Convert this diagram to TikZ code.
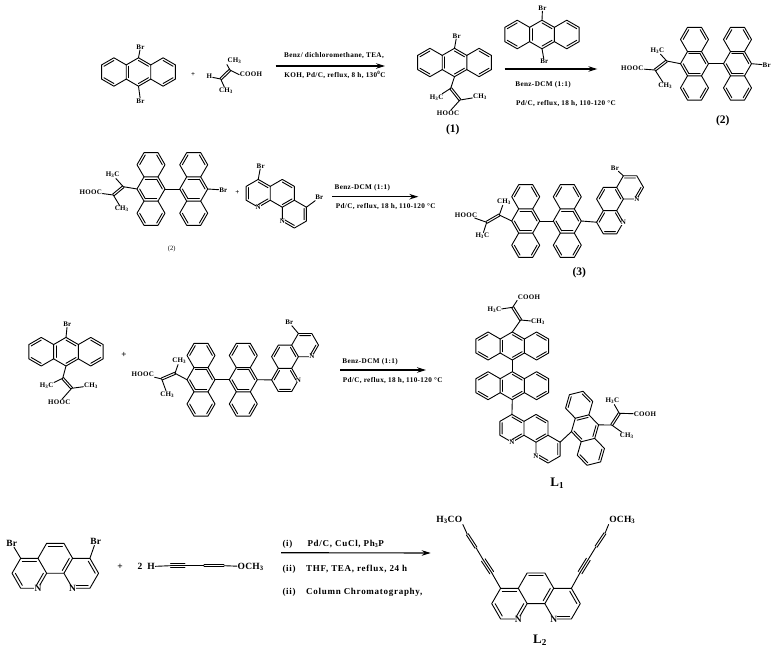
\documentclass[tikz,border=0pt]{standalone}
\usepackage{fontspec}
\setmainfont{Liberation Serif}
\newfontfamily\atomf{Liberation Serif}[LetterSpace=4]
\newfontfamily\bigatomf{Liberation Serif}[LetterSpace=3]
\newfontfamily\condf{Liberation Serif}[LetterSpace=5]
\newfontfamily\bigcondf{Liberation Serif}[LetterSpace=8]
\usetikzlibrary{calc,arrows.meta}
\tikzset{
  bond/.style={line width=.9pt,line cap=round,line join=round,black},
  atom/.style={inner sep=.5pt,font=\atomf\fontsize{7}{8}\selectfont\bfseries},
  bigatom/.style={inner sep=.5pt,font=\bigatomf\fontsize{9.5}{10}\selectfont\bfseries},
  cond/.style={inner sep=0pt,font=\condf\fontsize{7.2}{8}\selectfont\bfseries},
  bigcond/.style={inner sep=0pt,anchor=west,font=\bigcondf\fontsize{9}{10}\selectfont\bfseries},
  lab/.style={inner sep=0pt,font=\fontsize{11.5}{13}\selectfont\bfseries},
  rx/.style={line width=1.1pt,-{Stealth[length=9pt,width=5.5pt]}},
}
\newcommand\ibond[3]{\draw[bond] ($(#1)!.19!(#3)$) -- ($(#2)!.19!(#3)$);}
\newcommand\dbond[2]{\draw[bond] ($(#1)!1.1pt!90:(#2)$) -- ($(#2)!1.1pt!-90:(#1)$);
  \draw[bond] ($(#1)!1.1pt!-90:(#2)$) -- ($(#2)!1.1pt!90:(#1)$);}
\newcommand\tbond[2]{\draw[bond] (#1) -- (#2); \draw[bond] ($(#1)!2.2pt!90:(#2)$) -- ($(#2)!2.2pt!-90:(#1)$);
  \draw[bond] ($(#1)!2.2pt!-90:(#2)$) -- ($(#2)!2.2pt!90:(#1)$);}
% anthracene skeleton: name, cx, cy, s, theta
\newcommand\anthbase[5]{%
  \begin{scope}[shift={(#2,#3)},rotate=-#5,x=#4pt,y=-#4pt]
    \coordinate (#1-c) at (0,0);
    \coordinate (#1-t) at (0,-1);
    \coordinate (#1-b) at (0,1);
    \coordinate (#1-lu) at (-.866,-.5);
    \coordinate (#1-ld) at (-.866,.5);
    \coordinate (#1-ru) at (.866,-.5);
    \coordinate (#1-rd) at (.866,.5);
    \coordinate (#1-a1) at (-1.732,-1);
    \coordinate (#1-a2) at (-2.598,-.5);
    \coordinate (#1-a3) at (-2.598,.5);
    \coordinate (#1-a4) at (-1.732,1);
    \coordinate (#1-b1) at (1.732,-1);
    \coordinate (#1-b2) at (2.598,-.5);
    \coordinate (#1-b3) at (2.598,.5);
    \coordinate (#1-b4) at (1.732,1);
    \coordinate (#1-cl) at (-1.732,0);
    \coordinate (#1-cr) at (1.732,0);
  \end{scope}
  \draw[bond] (#1-t)--(#1-ru)--(#1-rd)--(#1-b)--(#1-ld)--(#1-lu)--cycle;
  \draw[bond] (#1-lu)--(#1-a1)--(#1-a2)--(#1-a3)--(#1-a4)--(#1-ld);
  \draw[bond] (#1-ru)--(#1-b1)--(#1-b2)--(#1-b3)--(#1-b4)--(#1-rd);
  \ibond{#1-a1}{#1-a2}{#1-cl}\ibond{#1-a3}{#1-a4}{#1-cl}
  \ibond{#1-b1}{#1-b2}{#1-cr}\ibond{#1-b3}{#1-b4}{#1-cr}
  \ibond{#1-lu}{#1-ld}{#1-c}
}
\newcommand\anth[5]{\anthbase{#1}{#2}{#3}{#4}{#5}%
  \ibond{#1-t}{#1-ru}{#1-c}\ibond{#1-b}{#1-rd}{#1-c}}
\newcommand\anthv[4]{\anthbase{#1}{#2}{#3}{#4}{90}%
  \ibond{#1-ru}{#1-rd}{#1-c}\ibond{#1-t}{#1-lu}{#1-c}\ibond{#1-b}{#1-rd}{#1-c}}
% phenanthroline: name, cx, cy, s, theta, atom style
\newcommand\phen[6]{%
  \begin{scope}[shift={(#2,#3)},rotate=-#5,x=#4pt,y=-#4pt]
    \coordinate (#1-c) at (0,0);
    \coordinate (#1-cl) at (-1.5,.866);
    \coordinate (#1-cr) at (1.5,.866);
    \coordinate (#1-p1) at (-.5,-.866);
    \coordinate (#1-p2) at (.5,-.866);
    \coordinate (#1-p3) at (1,0);
    \coordinate (#1-p4) at (.5,.866);
    \coordinate (#1-p5) at (-.5,.866);
    \coordinate (#1-p6) at (-1,0);
    \coordinate (#1-l1) at (-2,0);
    \coordinate (#1-l2) at (-2.5,.866);
    \coordinate (#1-l3) at (-2,1.732);
    \coordinate (#1-Nl) at (-1,1.732);
    \coordinate (#1-r1) at (2,0);
    \coordinate (#1-r2) at (2.5,.866);
    \coordinate (#1-r3) at (2,1.732);
    \coordinate (#1-Nr) at (1,1.732);
  \end{scope}
  \draw[bond] (#1-p1)--(#1-p2)--(#1-p3)--(#1-p4)--(#1-p5)--(#1-p6)--cycle;
  \draw[bond] (#1-p6)--(#1-l1)--(#1-l2)--(#1-l3)--(#1-Nl)--(#1-p5);
  \draw[bond] (#1-p3)--(#1-r1)--(#1-r2)--(#1-r3)--(#1-Nr)--(#1-p4);
  \ibond{#1-p1}{#1-p2}{#1-c}
  \ibond{#1-p3}{#1-p4}{#1-c}
  \ibond{#1-l1}{#1-p6}{#1-cl}
  \ibond{#1-l2}{#1-l3}{#1-cl}
  \ibond{#1-Nl}{#1-p5}{#1-cl}
  \ibond{#1-Nr}{#1-r3}{#1-cr}
  \ibond{#1-r1}{#1-r2}{#1-cr}
  \node[#6,fill=white,inner sep=.2pt] (#1-nl) at (#1-Nl) {N};
  \node[#6,fill=white,inner sep=.2pt] (#1-nr) at (#1-Nr) {N};
}
% alkene: a, b, ring atom, group on a, two groups on b
\newcommand\tig[6]{%
  \dbond{#1}{#2}
  \draw[bond] (#3) -- (#1);
  \draw[bond] (#1) -- (#4);
  \draw[bond] (#2) -- (#5);
  \draw[bond] (#2) -- (#6);
}
\begin{document}
\begin{tikzpicture}[x=1pt,y=-1pt]
\useasboundingbox (0,0) rectangle (779,655);

%% ---------- row 1 ----------
\anth{A}{138.5}{72}{14.2}{0}
\node[atom] (Abr1) at (140.5,47) {Br};
\node[atom] (Abr2) at (140.5,101) {Br};
\draw[bond] (A-t) -- (Abr1);
\draw[bond] (A-b) -- (Abr2);
\node[atom] (plus1) at (193,75) {+};
\coordinate (Ra) at (220.7,79);
\coordinate (Rb) at (230,70);
\node[atom] (Rh) at (209.3,76.7) {H};
\node[atom] (Rm1) at (234.5,61) {CH\textsubscript{3}};
\node[atom] (Rm2) at (226,90.7) {CH\textsubscript{3}};
\node[atom] (Rc) at (251,74.7) {COOH};
\dbond{Ra}{Rb}
\draw[bond] (Ra) -- (Rh);
\draw[bond] (Ra) -- (Rm2);
\draw[bond] (Rb) -- (Rm1.south west);
\draw[bond] (Rb) -- (Rc.west);
\coordinate (ar1s) at (275.7,66);
\coordinate (ar1e) at (385,66);
\draw[rx] (ar1s) -- (ar1e);
\node[cond] (c1a) at (334,56) {Benz/ dichloromethane, TEA,};
\node[cond] (c1b) at (335,75) {KOH, Pd/C, reflux, 8 h, 130\textsuperscript{0}C};

% compound 1
\anth{B}{454.5}{62.5}{14.2}{0}
\node[atom] (Bbr) at (456.7,36) {Br};
\draw[bond] (B-t) -- (Bbr);
\coordinate (Ba) at (450.7,88.3);
\coordinate (Bb) at (460,100);
\node[atom] (Bm) at (436.7,97.3) {H\textsubscript{3}C};
\node[atom] (Bp) at (480,96.7) {CH\textsubscript{3}};
\node[atom] (Bc) at (448,113.3) {HOOC};
\tig{Ba}{Bb}{B-b}{Bm}{Bp}{Bc}
\node[lab] (L1x) at (452.7,130) {(1)};

\anth{C}{542}{34.5}{14.3}{0}
\node[atom] (Cbr1) at (542.5,8.3) {Br};
\node[atom] (Cbr2) at (544.3,61.7) {Br};
\draw[bond] (C-t) -- (Cbr1);
\draw[bond] (C-b) -- (Cbr2);
\coordinate (ar2s) at (504.7,69);
\coordinate (ar2e) at (597.3,69);
\draw[rx] (ar2s) -- (ar2e);
\node[cond] (c2a) at (543,85) {Benz-DCM (1:1)};
\node[cond] (c2b) at (566,103.7) {Pd/C, reflux, 18 h, 110-120 °C};

% compound 2
\anthv{D}{694.5}{63.7}{14}
\anthv{E}{737.5}{63.7}{14}
\draw[bond] (D-t) -- (E-b);
\node[atom] (Ebr) at (766.7,65) {Br};
\draw[bond] (E-t) -- (Ebr);
\coordinate (Da) at (666.7,61);
\coordinate (Db) at (655,70);
\node[atom] (Dm) at (657.3,50.7) {H\textsubscript{3}C};
\node[atom] (Dp) at (665.3,86) {CH\textsubscript{3}};
\node[atom] (Dc) at (632.3,68.3) {HOOC};
\tig{Da}{Db}{D-b}{Dm}{Dc}{Dp}
\node[lab] (L2x) at (722.7,120.7) {(2)};

%% ---------- row 2 ----------
\anthv{F}{151}{189}{14}
\anthv{G}{193.7}{189}{14}
\draw[bond] (F-t) -- (G-b);
\node[atom] (Gbr) at (223.3,190) {Br};
\draw[bond] (G-t) -- (Gbr);
\coordinate (Fa) at (123.3,186.7);
\coordinate (Fb) at (113.3,195);
\node[atom] (Fm) at (112.7,175) {H\textsubscript{3}C};
\node[atom] (Fp) at (121.7,209) {CH\textsubscript{3}};
\node[atom] (Fc) at (90.7,192) {HOOC};
\tig{Fa}{Fb}{F-b}{Fm}{Fc}{Fp}
\node[inner sep=0pt,font=\fontsize{6.5}{7}\selectfont] (L2y) at (171.7,249) {(2)};
\node[atom] (plus2) at (237.3,192.3) {+};
\phen{H}{282.3}{193.3}{13.9}{30}{atom}
\node[atom] (Hbr1) at (260.7,166) {Br};
\node[atom] (Hbr2) at (319.3,197.7) {Br};
\draw[bond] (H-l1) -- (Hbr1);
\draw[bond] (H-r1) -- (Hbr2);
\coordinate (ar3s) at (332.3,196.7);
\coordinate (ar3e) at (418.3,196.7);
\draw[rx] (ar3s) -- (ar3e);
\node[cond] (c3a) at (362.3,187.7) {Benz-DCM (1:1)};
\node[cond] (c3b) at (385.7,206.3) {Pd/C, reflux, 18 h, 110-120 °C};

% compound 3
\anthv{I}{525.7}{221}{14}
\anthv{J}{567.3}{221}{14}
\draw[bond] (I-t) -- (J-b);
\coordinate (Ia) at (499.3,215);
\coordinate (Ib) at (486.7,222.3);
\node[atom] (Im) at (504,201.7) {CH\textsubscript{3}};
\node[atom] (Ic) at (466,215) {HOOC};
\node[atom] (Ip) at (482.3,236) {H\textsubscript{3}C};
\tig{Ia}{Ib}{I-b}{Im}{Ic}{Ip}
\phen{K}{610}{199}{13.4}{-60}{atom}
\draw[bond] (J-t) -- (K-l1);
\node[atom] (Kbr) at (615,168.3) {Br};
\draw[bond] (K-r1) -- (Kbr);
\node[lab] (L3x) at (579.3,272.7) {(3)};

%% ---------- row 3 ----------
\anth{M}{66}{351.7}{14.3}{0}
\node[atom] (Mbr) at (67.3,324.3) {Br};
\draw[bond] (M-t) -- (Mbr);
\coordinate (Ma) at (62.7,378.3);
\coordinate (Mb) at (71.7,388.3);
\node[atom] (Mm) at (46.7,386) {H\textsubscript{3}C};
\node[atom] (Mp) at (91,385.7) {CH\textsubscript{3}};
\node[atom] (Mc) at (59.3,402.3) {HOOC};
\tig{Ma}{Mb}{M-b}{Mm}{Mp}{Mc}
\node[atom,font=\fontsize{9}{10}\selectfont\bfseries] (plus3) at (124,354.7) {+};

\anthv{O}{201}{379.7}{14}
\anthv{P}{243.3}{379.7}{14}
\draw[bond] (O-t) -- (P-b);
\coordinate (Oa) at (175,373.3);
\coordinate (Ob) at (161.7,379);
\node[atom] (Om) at (179.3,361) {CH\textsubscript{3}};
\node[atom] (Oc) at (142.7,374.3) {HOOC};
\node[atom] (Op) at (167.3,394.3) {CH\textsubscript{3}};
\tig{Oa}{Ob}{O-b}{Om}{Oc}{Op}
\phen{Q}{285}{356.7}{13.4}{-60}{atom}
\draw[bond] (P-t) -- (Q-l1);
\node[atom] (Qbr) at (289.3,322.7) {Br};
\draw[bond] (Q-r1) -- (Qbr);
\coordinate (ar4s) at (340,370);
\coordinate (ar4e) at (426,370);
\draw[rx] (ar4s) -- (ar4e);
\node[cond] (c4a) at (370,361.7) {Benz-DCM (1:1)};
\node[cond] (c4b) at (392.7,381) {Pd/C, reflux, 18 h, 110-120 °C};

% L1
\anth{S}{512.3}{346}{14}{0}
\anth{T}{512.3}{385.7}{14}{0}
\draw[bond] (S-b) -- (T-t);
\coordinate (Sa) at (520.7,320);
\coordinate (Sb) at (512.7,307.3);
\node[atom] (Sc) at (529,297.3) {COOH};
\node[atom] (Sm) at (494.3,310) {H\textsubscript{3}C};
\node[atom] (Sp) at (538,321.7) {CH\textsubscript{3}};
\tig{Sa}{Sb}{S-t}{Sp}{Sc.south west}{Sm}
\phen{U}{536}{428.3}{13.9}{30}{atom}
\draw[bond] (T-b) -- (U-l1);
\anth{V}{585}{428.3}{14}{76}
\draw[bond] (U-r1) -- (V-b);
\coordinate (Va) at (611.7,425);
\coordinate (Vb) at (619.3,413.3);
\node[atom] (Vm) at (612.3,401) {H\textsubscript{3}C};
\node[atom] (Vc) at (645,414) {COOH};
\node[atom] (Vp) at (626.7,435.7) {CH\textsubscript{3}};
\tig{Va}{Vb}{V-t}{Vp}{Vm}{Vc}
\node[lab,font=\fontsize{13}{14}\selectfont\bfseries] (L1l) at (557.3,483) {L\textsubscript{1}};

%% ---------- row 4 ----------
\phen{W}{55.3}{558.3}{17.3}{0}{bigatom}
\node[bigatom] (Wbr1) at (11.7,543.3) {Br};
\node[bigatom] (Wbr2) at (95.7,541.7) {Br};
\draw[bond] (W-l1) -- (Wbr1);
\draw[bond] (W-r1) -- (Wbr2);
\node[bigatom] (plus4) at (120,567.3) {+};
\node[bigatom] (two) at (140,566.5) {2};
\node[bigatom] (Xh) at (151,566.5) {H};
\coordinate (X1) at (170.5,565.7);
\coordinate (X2) at (185,565.7);
\coordinate (X3) at (204,565.7);
\coordinate (X4) at (224,565.7);
\node[bigatom] (Xo) at (250.7,566.7) {OCH\textsubscript{3}};
\draw[bond] (Xh) -- (X1);
\tbond{X1}{X2}
\draw[bond] (X2) -- (X3);
\dbond{X3}{X4}
\draw[bond] (X4) -- (Xo);
\coordinate (ar5s) at (281,552.7);
\coordinate (ar5e) at (430.7,553);
\draw[rx] (ar5s) -- (ar5e);
\node[bigcond] (c5a) at (282.3,544.3) {(i)};
\node[bigcond] (c5b) at (307.3,544.3) {Pd/C, CuCl, Ph\textsubscript{3}P};
\node[bigcond] (c5c) at (282.3,569) {(ii)};
\node[bigcond] (c5d) at (306,569) {THF, TEA, reflux, 24 h};
\node[bigcond] (c5e) at (282.3,592.7) {(ii)};
\node[bigcond] (c5f) at (306,592.7) {Column Chromatography,};

% L2
\phen{Y}{536}{588.3}{17.7}{0}{bigatom}
\coordinate (Yl1) at (491.7,572.7);
\coordinate (Yl2) at (483.3,560);
\coordinate (Yl3) at (476,547.7);
\coordinate (Yl4) at (467.3,534.3);
\coordinate (Yr1) at (580,572.7);
\coordinate (Yr2) at (588.3,559.3);
\coordinate (Yr3) at (596,546.7);
\coordinate (Yr4) at (605,533.3);
\node[bigatom] (Yol) at (449.3,520) {H\textsubscript{3}CO};
\node[bigatom] (Yor) at (622.3,520) {OCH\textsubscript{3}};
\draw[bond] (Y-l1) -- (Yl1);
\tbond{Yl1}{Yl2}
\draw[bond] (Yl2) -- (Yl3);
\dbond{Yl3}{Yl4}
\draw[bond] (Yl4) -- (Yol.south east);
\draw[bond] (Y-r1) -- (Yr1);
\tbond{Yr1}{Yr2}
\draw[bond] (Yr2) -- (Yr3);
\dbond{Yr3}{Yr4}
\draw[bond] (Yr4) -- (Yor.south west);
\node[lab,font=\fontsize{13}{14}\selectfont\bfseries] (L2l) at (540,640) {L\textsubscript{2}};
\end{tikzpicture}
\end{document}
